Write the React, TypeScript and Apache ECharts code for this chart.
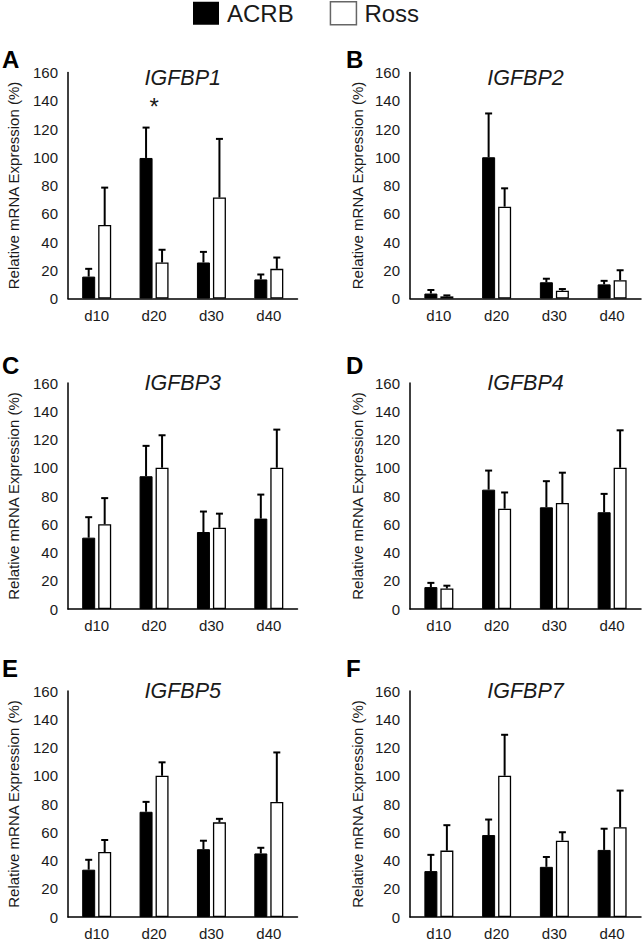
import React, { useEffect, useRef } from 'react';
import * as echarts from 'echarts';

const categories = ['d10', 'd20', 'd30', 'd40'];
const seriesNames = ['ACRB', 'Ross'];
const panelLetters = ['A', 'B', 'C', 'D', 'E', 'F'];
const geneNames = ['IGFBP1', 'IGFBP2', 'IGFBP3', 'IGFBP4', 'IGFBP5', 'IGFBP7'];
const yAxisName = 'Relative mRNA Expression (%)';
const yMin = 0;
const yMax = 160;
const yInterval = 20;

// means and upper error (SE) per gene
const igfbp1Acrb = [15.5, 99.5, 25.5, 13.5];
const igfbp1AcrbErr = [5.5, 21.5, 7.5, 3.5];
const igfbp1Ross = [52, 25.5, 71.5, 21];
const igfbp1RossErr = [26.5, 9, 41.5, 8];

const igfbp2Acrb = [3.5, 100, 11.5, 10];
const igfbp2AcrbErr = [2.5, 31, 2.5, 2.5];
const igfbp2Ross = [1.5, 65, 5.5, 13];
const igfbp2RossErr = [0.7, 13, 1.2, 7];

const igfbp3Acrb = [50.5, 94, 54.5, 64];
const igfbp3AcrbErr = [14.5, 21.5, 14.5, 17];
const igfbp3Ross = [60, 100, 57.5, 100];
const igfbp3RossErr = [18.5, 23, 10, 27];

const igfbp4Acrb = [15.5, 84.5, 72, 68.5];
const igfbp4AcrbErr = [3, 13.5, 18.5, 13];
const igfbp4Ross = [14.5, 71, 75, 100];
const igfbp4RossErr = [2, 11.5, 21.5, 26.5];

const igfbp5Acrb = [33.5, 74.5, 48, 45];
const igfbp5AcrbErr = [7, 7, 6, 4];
const igfbp5Ross = [46, 100, 67, 81.5];
const igfbp5RossErr = [8.5, 9.5, 2.5, 35];

const igfbp7Acrb = [32.5, 58, 35.5, 47.5];
const igfbp7AcrbErr = [11.5, 11, 7, 15];
const igfbp7Ross = [47, 100, 54, 63.5];
const igfbp7RossErr = [18, 29, 6, 26];

// significance marks: panel index, category, y position (value units)
const sigPanel = [0];
const sigCategory = ['d20'];
const sigValue = [136];
const sigText = ['*'];

const panels = [
  [igfbp1Acrb, igfbp1AcrbErr, igfbp1Ross, igfbp1RossErr],
  [igfbp2Acrb, igfbp2AcrbErr, igfbp2Ross, igfbp2RossErr],
  [igfbp3Acrb, igfbp3AcrbErr, igfbp3Ross, igfbp3RossErr],
  [igfbp4Acrb, igfbp4AcrbErr, igfbp4Ross, igfbp4RossErr],
  [igfbp5Acrb, igfbp5AcrbErr, igfbp5Ross, igfbp5RossErr],
  [igfbp7Acrb, igfbp7AcrbErr, igfbp7Ross, igfbp7RossErr],
];

const FONT = '"Liberation Sans", Arial, Helvetica, sans-serif';
const TEXT = '#1a1a1a';
const colLeft = [68, 410];
const colWidth = [229.5, 231];
const nameX = [13, 357];
const rowTop = [72.5, 383, 691];
const plotH = 226;
const BAR_W = 13;
const BAR_GAP = 3;

function buildOption() {
  const grids: any[] = [];
  const xAxes: any[] = [];
  const yAxes: any[] = [];
  const series: any[] = [];
  const titles: any[] = [];
  const graphics: any[] = [];

  panels.forEach((p, i) => {
    const col = i % 2;
    const row = Math.floor(i / 2);
    const left = colLeft[col];
    const top = rowTop[row];
    const w = colWidth[col];
    grids.push({ left, top, width: w, height: plotH, containLabel: false });
    xAxes.push({
      type: 'category',
      gridIndex: i,
      data: categories,
      axisLine: { lineStyle: { color: '#000', width: 1.5 } },
      axisTick: { show: false },
      axisLabel: { color: TEXT, fontSize: 15, fontFamily: FONT, margin: 9 },
    });
    yAxes.push({
      type: 'value',
      gridIndex: i,
      min: yMin,
      max: yMax,
      interval: yInterval,
      axisLine: { show: true, lineStyle: { color: '#000', width: 1.5 } },
      axisTick: { show: false },
      splitLine: { show: false },
      axisLabel: { color: TEXT, fontSize: 15, fontFamily: FONT, margin: 10 },
    });
    graphics.push({
      type: 'text',
      x: nameX[col],
      y: top + plotH / 2,
      rotation: Math.PI / 2,
      style: {
        text: yAxisName,
        fill: TEXT,
        fontSize: 15,
        fontFamily: FONT,
        align: 'center',
        verticalAlign: 'middle',
      },
    });
    const [a, ae, r, re] = p;
    series.push({
      type: 'bar',
      name: seriesNames[0],
      xAxisIndex: i,
      yAxisIndex: i,
      data: a,
      barWidth: BAR_W,
      barGap: `${(BAR_GAP / BAR_W) * 100}%`,
      itemStyle: { color: '#000', borderColor: '#000', borderWidth: 1 },
      z: 2,
    });
    series.push({
      type: 'bar',
      name: seriesNames[1],
      xAxisIndex: i,
      yAxisIndex: i,
      data: r,
      barWidth: BAR_W,
      barGap: `${(BAR_GAP / BAR_W) * 100}%`,
      itemStyle: { color: '#fff', borderColor: '#000', borderWidth: 1.3 },
      z: 2,
    });
    [
      [a, ae, -1],
      [r, re, 1],
    ].forEach(([means, errs, side]: any) => {
      series.push({
        type: 'custom',
        name: 'err',
        xAxisIndex: i,
        yAxisIndex: i,
        data: means.map((m: number, k: number) => [k, m, m + errs[k]]),
        encode: { x: 0, y: [1, 2] },
        z: 3,
        renderItem: (params: any, api: any) => {
          const base = api.coord([api.value(0), api.value(1)]);
          const tip = api.coord([api.value(0), api.value(2)]);
          const x = base[0] + side * (BAR_W + BAR_GAP) / 2;
          return {
            type: 'group',
            children: [
              { type: 'line', shape: { x1: x, y1: base[1], x2: x, y2: tip[1] }, style: { stroke: '#000', lineWidth: 2 } },
              { type: 'line', shape: { x1: x - 3.5, y1: tip[1], x2: x + 3.5, y2: tip[1] }, style: { stroke: '#000', lineWidth: 2 } },
            ],
          };
        },
      });
    });
    titles.push({
      text: geneNames[i],
      left: left + w / 2,
      top: row === 0 ? top + 5.5 : top,
      textAlign: 'center',
      textVerticalAlign: 'middle',
      padding: 0,
      textStyle: { color: TEXT, fontSize: 21.5, fontStyle: 'italic', fontWeight: 'normal', fontFamily: FONT },
    });
    titles.push({
      text: panelLetters[i],
      left: col === 0 ? 2 : 346,
      top: [59, 365, 668][row],
      textAlign: 'left',
      textVerticalAlign: 'middle',
      padding: 0,
      textStyle: { color: '#000', fontSize: 24, fontWeight: 'bold', fontFamily: FONT },
    });
  });

  sigPanel.forEach((pi, k) => {
    series.push({
      type: 'custom',
      name: 'sig',
      xAxisIndex: pi,
      yAxisIndex: pi,
      data: [[categories.indexOf(sigCategory[k]), sigValue[k]]],
      encode: { x: 0, y: 1 },
      z: 4,
      renderItem: (params: any, api: any) => {
        const pt = api.coord([api.value(0), api.value(1)]);
        return {
          type: 'text',
          x: pt[0],
          y: pt[1],
          style: { text: sigText[k], fill: TEXT, fontSize: 24, fontFamily: FONT, align: 'center', verticalAlign: 'middle' },
        };
      },
    });
  });

  return {
    animation: false,
    backgroundColor: '#fff',
    title: titles,
    graphic: graphics,
    legend: {
      data: [
        { name: seriesNames[0], itemStyle: { color: '#000', borderColor: '#000', borderWidth: 0 } },
        { name: seriesNames[1], itemStyle: { color: '#fff', borderColor: '#666', borderWidth: 1.5 } },
      ],
      left: 193,
      top: 1,
      padding: 0,
      icon: 'rect',
      itemWidth: 26,
      itemHeight: 23,
      itemGap: 36,
      selectedMode: false,
      textStyle: { color: TEXT, fontSize: 24, fontFamily: FONT, padding: [0, 0, 0, 3] },
    },
    grid: grids,
    xAxis: xAxes,
    yAxis: yAxes,
    series,
  };
}

export default function App() {
  const ref = useRef<HTMLDivElement>(null);
  useEffect(() => {
    if (!ref.current) return;
    const chart = echarts.init(ref.current, undefined, { renderer: 'svg' });
    chart.setOption(buildOption() as any);
    return () => chart.dispose();
  }, []);
  return (
    <div
      ref={ref}
      style={{ position: 'fixed', left: 0, top: 0, width: 643, height: 942, background: '#fff' }}
    />
  );
}
